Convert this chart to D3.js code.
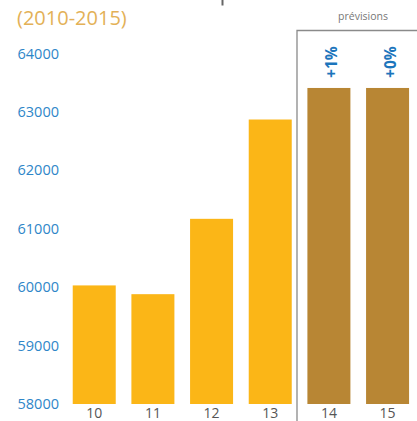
<!DOCTYPE html>
<html>
<head>
<meta charset="utf-8">
<script src="https://cdn.jsdelivr.net/npm/d3@7"></script>
<style>
  html, body { margin: 0; padding: 0; background: #fff; }
  svg { display: block; font-family: "Open Sans", "Noto Sans", sans-serif; }
</style>
</head>
<body>
<svg id="chart" width="417" height="421"></svg>
<script>
// Years (last two digits) and headcount values
const years = ["10", "11", "12", "13", "14", "15"];
const values = [60030, 59880, 61170, 62870, 63410, 63410];
// Which years are forecasts
const forecast = [false, false, false, false, true, true];
// Growth labels shown above forecast bars
const growthLabels = ["", "", "", "", "+1%", "+0%"];
const yTicks = [58000, 59000, 60000, 61000, 62000, 63000, 64000];

const svg = d3.select("#chart");

const x = d3.scaleBand()
  .domain(years)
  .range([64.9, 416.9])
  .paddingInner(0.267)
  .paddingOuter(0.1335);

const y = d3.scaleLinear()
  .domain([58000, 64000])
  .range([404, 53.5]);

// Fragment of heading above the chart
svg.append("line")
  .attr("x1", 222.5).attr("x2", 222.5)
  .attr("y1", 0).attr("y2", 5.5)
  .attr("stroke", "#666").attr("stroke-width", 2);

// Period subtitle
svg.append("text")
  .attr("x", 17).attr("y", 24.5)
  .attr("fill", "#E3B157")
  .attr("font-size", 20)
  .text("(2010-2015)");

// Y axis (labels only)
const yAxis = d3.axisLeft(y).tickValues(yTicks).tickSize(0).tickPadding(0)
  .tickFormat(d3.format("d"));
const gy = svg.append("g").attr("transform", "translate(59,0)").call(yAxis);
gy.select(".domain").remove();
gy.selectAll("text")
  .attr("fill", "#2E86C8")
  .attr("font-size", 14.5)
  .attr("font-family", "'Open Sans', sans-serif");

// Forecast frame
const fx = 297;
svg.append("path")
  .attr("d", `M${fx},421 V30.5 H417`)
  .attr("fill", "none")
  .attr("stroke", "#8a8a8a")
  .attr("stroke-width", 1.3);

svg.append("text")
  .attr("x", 363).attr("y", 20)
  .attr("text-anchor", "middle")
  .attr("fill", "#777")
  .attr("font-size", 10.5)
  .text("prévisions");

// Bars
svg.selectAll("rect.bar")
  .data(years)
  .join("rect")
  .attr("class", "bar")
  .attr("x", d => x(d))
  .attr("width", x.bandwidth())
  .attr("y", (d, i) => y(values[i]))
  .attr("height", (d, i) => y(58000) - y(values[i]))
  .attr("fill", (d, i) => forecast[i] ? "#B88634" : "#FBB617");

// Growth labels, rotated
svg.selectAll("text.growth")
  .data(years.filter((d, i) => growthLabels[i]))
  .join("text")
  .attr("class", "growth")
  .attr("transform", d => {
    const i = years.indexOf(d);
    return `translate(${x(d) + x.bandwidth() / 2 + 8.5},${y(values[i]) - 10}) rotate(-90)`;
  })
  .attr("fill", "#1C75BC")
  .attr("font-weight", "bold")
  .attr("font-size", 15.5)
  .text(d => growthLabels[years.indexOf(d)]);

// X axis labels
const xAxis = d3.axisBottom(x).tickSize(0).tickPadding(0);
const gx = svg.append("g").attr("transform", "translate(0,408.5)").call(xAxis);
gx.select(".domain").remove();
gx.selectAll("text")
  .attr("fill", "#555")
  .attr("font-size", 14)
  .attr("font-family", "'Open Sans', sans-serif");
</script>
</body>
</html>
